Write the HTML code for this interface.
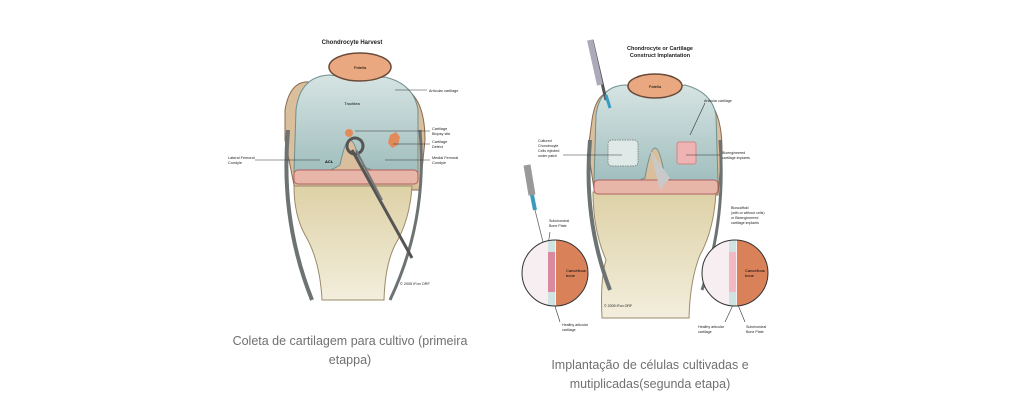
<!DOCTYPE html>
<html><head><meta charset="utf-8"><style>
body{margin:0;background:#fff;width:1024px;height:410px;overflow:hidden}
svg{position:absolute;left:0;top:0}
.cap{position:absolute;font-family:"Liberation Sans",sans-serif;font-size:12.5px;color:#707070;text-align:center;line-height:19px}
</style></head><body>
<svg width="1024" height="410" viewBox="0 0 1024 410" font-family="Liberation Sans,sans-serif">
<defs>
<linearGradient id="cart" x1="0" y1="0" x2="0" y2="1"><stop offset="0" stop-color="#d6e4e3"/><stop offset="1" stop-color="#9fbdbd"/></linearGradient>
<linearGradient id="bone" x1="0" y1="0" x2="0" y2="1"><stop offset="0" stop-color="#ddd1a6"/><stop offset="1" stop-color="#f3eedc"/></linearGradient>
</defs>
<!-- LEFT KNEE -->
<text x="352" y="44" font-size="6" font-weight="bold" text-anchor="middle" fill="#222">Chondrocyte Harvest</text>
<path d="M285 110 Q290 80 310 82 L400 86 Q425 95 425 140 L420 190 L295 190 L285 140Z" fill="#d9bf9c" stroke="#8a6a50" stroke-width="1"/>
<path d="M294 186 L412 186 Q410 220 395 245 Q385 265 384 300 L322 300 Q320 260 305 235 Q294 215 294 186Z" fill="url(#bone)" stroke="#9a8a6a" stroke-width="1"/>
<path d="M288 130 Q280 220 312 300" fill="none" stroke="#6d7373" stroke-width="4"/>
<path d="M420 130 Q428 220 390 300" fill="none" stroke="#6d7373" stroke-width="3"/>
<path d="M294 172 L296 110 Q300 76 330 75 Q360 80 385 77 Q414 84 418 110 L418 172 Q385 178 360 165 Q355 140 350 140 Q345 140 340 165 Q320 178 294 172Z" fill="url(#cart)" stroke="#6f8f8f" stroke-width="1"/>
<rect x="294" y="170" width="124" height="14" rx="4" fill="#e7b6a8" stroke="#b06060" stroke-width="1"/>
<ellipse cx="360" cy="67" rx="31" ry="14" fill="#e9a880" stroke="#6b4a3a" stroke-width="1.5"/>
<text x="360" y="69" font-size="4" text-anchor="middle">Patella</text>
<text x="352" y="105" font-size="4" text-anchor="middle">Trochlea</text>
<circle cx="349" cy="133" r="4" fill="#e38a5a"/>
<path d="M390 135 l6 -3 l4 5 l-2 8 l-6 3 l-4 -5z" fill="#e38a5a"/>
<circle cx="355" cy="146" r="8" fill="none" stroke="#555" stroke-width="3"/>
<line x1="352" y1="150" x2="412" y2="258" stroke="#555" stroke-width="3"/>
<line x1="356" y1="150" x2="382" y2="200" stroke="#777" stroke-width="2"/>
<text x="325" y="163" font-size="4" font-weight="bold">ACL</text>
<g stroke="#333" stroke-width="0.6">
<line x1="395" y1="90" x2="427" y2="90"/><line x1="355" y1="131" x2="430" y2="131"/><line x1="393" y1="144" x2="430" y2="144"/><line x1="385" y1="160" x2="430" y2="160"/><line x1="255" y1="160" x2="320" y2="160"/>
</g>
<g font-size="3.8" fill="#222">
<text x="429" y="92">Articular cartilage</text>
<text x="432" y="130">Cartilage</text><text x="432" y="135">Biopsy site</text>
<text x="432" y="143">Cartilage</text><text x="432" y="148">Defect</text>
<text x="432" y="159">Medial Femoral</text><text x="432" y="164">Condyle</text>
<text x="228" y="159">Lateral Femoral</text><text x="228" y="164">Condyle</text>
<text x="400" y="285">© 2005 iFon ORF</text>
</g>
<!-- RIGHT KNEE -->
<text x="660" y="50" font-size="5.5" font-weight="bold" text-anchor="middle" fill="#222">Chondrocyte or Cartilage</text>
<text x="660" y="57" font-size="5.5" font-weight="bold" text-anchor="middle" fill="#222">Construct Implantation</text>
<path d="M592 120 Q596 92 612 92 L700 95 Q722 105 722 150 L718 195 L595 195 L588 150Z" fill="#d9bf9c" stroke="#8a6a50"/>
<path d="M593 192 L716 192 Q714 230 700 255 Q690 280 689 318 L602 318 Q600 280 606 260 Q593 230 593 192Z" fill="url(#bone)" stroke="#9a8a6a"/>
<path d="M590 140 Q583 220 610 290" fill="none" stroke="#6d7373" stroke-width="4"/>
<path d="M720 140 Q726 220 702 290" fill="none" stroke="#6d7373" stroke-width="3"/>
<path d="M594 182 L596 115 Q600 86 625 85 Q665 90 685 85 Q712 92 716 115 L718 182 Q690 188 665 178 Q660 148 655 148 Q650 148 645 178 Q620 188 594 182Z" fill="url(#cart)" stroke="#6f8f8f"/>
<rect x="594" y="180" width="124" height="14" rx="4" fill="#e7b6a8" stroke="#b06060"/>
<path d="M650 150 L660 190 L670 178Z" fill="#c9c9c9"/>
<ellipse cx="655" cy="86" rx="27" ry="12" fill="#e9a880" stroke="#6b4a3a" stroke-width="1.5"/>
<text x="655" y="88" font-size="4" text-anchor="middle">Patella</text>
<rect x="608" y="140" width="30" height="26" rx="4" fill="#dfe9e8" stroke="#888" stroke-dasharray="1.5,1"/>
<rect x="677" y="142" width="19" height="22" rx="2" fill="#f0b3b3" stroke="#c88"/>
<g stroke="#555" stroke-width="3"><line x1="592" y1="40" x2="606" y2="100"/></g>
<line x1="590" y1="40" x2="600" y2="85" stroke="#aab" stroke-width="6"/>
<line x1="606" y1="95" x2="610" y2="108" stroke="#3a9bc0" stroke-width="3"/>
<line x1="527" y1="165" x2="532" y2="195" stroke="#999" stroke-width="7"/>
<line x1="532" y1="195" x2="535" y2="210" stroke="#3a9bc0" stroke-width="4"/>
<line x1="535" y1="210" x2="545" y2="250" stroke="#666" stroke-width="0.8"/>
<g stroke="#333" stroke-width="0.6">
<line x1="563" y1="155" x2="622" y2="155"/><line x1="686" y1="155" x2="720" y2="155"/><line x1="690" y1="135" x2="705" y2="103"/>
<line x1="550" y1="232" x2="548" y2="245"/><line x1="553" y1="300" x2="560" y2="322"/>
<line x1="732" y1="240" x2="736" y2="255"/><line x1="733" y1="305" x2="725" y2="322"/><line x1="738" y1="305" x2="745" y2="322"/>
</g>
<g font-size="3.6" fill="#222">
<text x="704" y="102">Articular cartilage</text>
<text x="722" y="154">Bioengineered</text><text x="722" y="159">cartilage implants</text>
<text x="538" y="142">Cultured</text><text x="538" y="147">Chondrocyte</text><text x="538" y="152">Cells injected</text><text x="538" y="157">under patch</text>
<text x="549" y="222">Subchondral</text><text x="549" y="227">Bone Plate</text>
<text x="731" y="209">Bioscaffold</text><text x="731" y="214">(with or without cells)</text><text x="731" y="219">or Bioengineered</text><text x="731" y="224">cartilage implants</text>
<text x="562" y="326">Healthy articular</text><text x="562" y="331">cartilage</text>
<text x="698" y="328">Healthy articular</text><text x="698" y="333">cartilage</text>
<text x="746" y="328">Subchondral</text><text x="746" y="333">Bone Plate</text>
<text x="604" y="307">© 2005 iFon ORF</text>
</g>
<clipPath id="c1"><circle cx="555" cy="273" r="33"/></clipPath>
<g clip-path="url(#c1)"><rect x="520" y="238" width="70" height="70" fill="#f7eef2"/><rect x="556" y="238" width="35" height="70" fill="#d9825a"/><rect x="548" y="238" width="7" height="70" fill="#cfe3e3"/><rect x="548" y="252" width="7" height="40" fill="#d98aa0"/></g>
<circle cx="555" cy="273" r="33" fill="none" stroke="#333" stroke-width="1"/>
<text x="566" y="272" font-size="4">Cancellous</text><text x="566" y="277" font-size="4">bone</text>
<clipPath id="c2"><circle cx="735" cy="273" r="33"/></clipPath>
<g clip-path="url(#c2)"><rect x="700" y="238" width="70" height="70" fill="#f7eef2"/><rect x="737" y="238" width="35" height="70" fill="#d9825a"/><rect x="729" y="238" width="7" height="70" fill="#cfe3e3"/><rect x="729" y="252" width="7" height="40" fill="#f2b8c4"/></g>
<circle cx="735" cy="273" r="33" fill="none" stroke="#333" stroke-width="1"/>
<text x="745" y="272" font-size="4">Cancellous</text><text x="745" y="277" font-size="4">bone</text>
</svg>
<div class="cap" style="left:225px;top:332px;width:250px">Coleta de cartilagem para cultivo (primeira<br>etappa)</div>
<div class="cap" style="left:530px;top:356px;width:240px">Implantação de células cultivadas e<br>mutiplicadas(segunda etapa)</div>
</body></html>
